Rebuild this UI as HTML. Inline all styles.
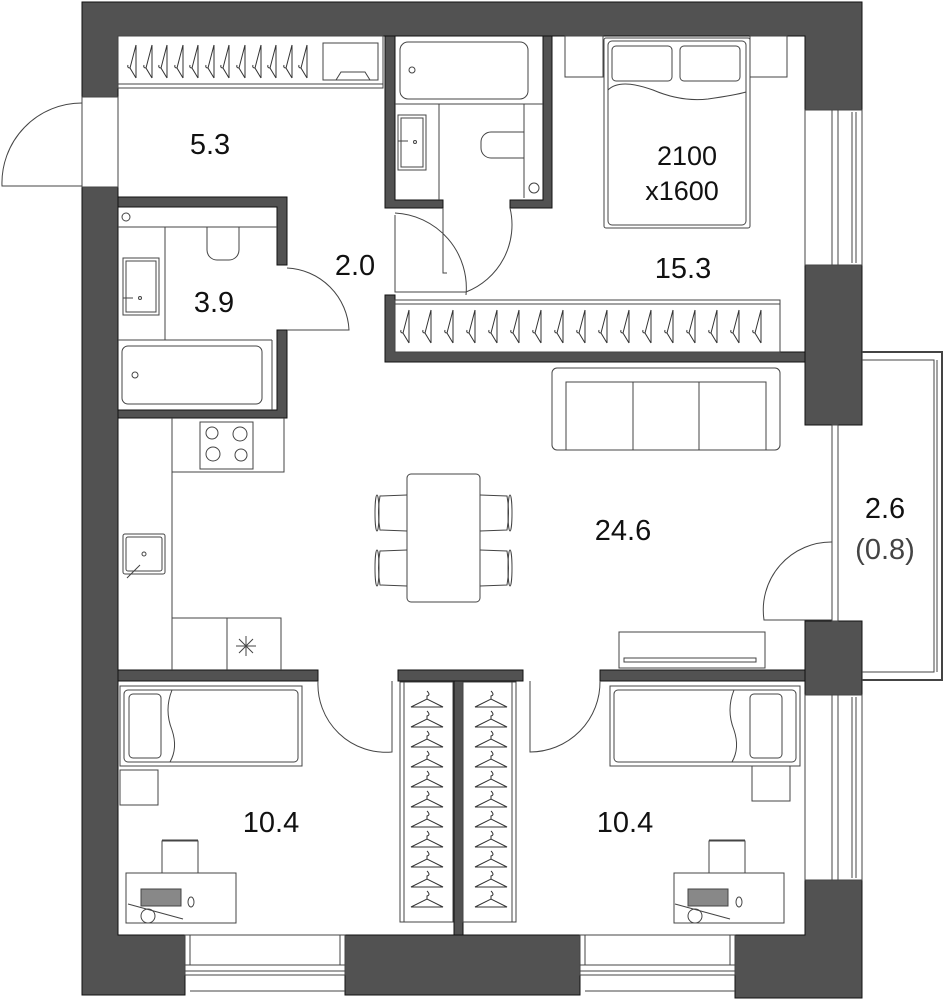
<!DOCTYPE html>
<html><head><meta charset="utf-8"><style>
html,body{margin:0;padding:0;background:#fff;width:944px;height:1000px;overflow:hidden}
svg{display:block}
text{font-family:"Liberation Sans",sans-serif;fill:#111}
</style></head><body>
<svg width="944" height="1000" viewBox="0 0 944 1000" xmlns="http://www.w3.org/2000/svg">
<defs>
<g id="hv" fill="none" stroke="#333" stroke-width="1"><path d="M3,-17 L-3,6 L3,16 M3,-17 L3,16 M-3,6 q-3,0 -2,-3"/></g>
<g id="hh" fill="none" stroke="#333" stroke-width="1"><path d="M-16,6 L16,6 L0,-2 Z M0,-2 v-3 q4,-1 0,-5"/></g>
</defs>
<g fill="#525252" stroke="#111" stroke-width="1">
<path d="M82,2 H862 V110 H805 V36 H118 V97 H82 Z"/>
<path d="M82,187 H118 V935 H185 V995 H82 Z"/>
<rect x="345" y="935" width="235" height="60"/>
<path d="M805,880 H862 V998 H735 V935 H805 Z"/>
<rect x="805" y="265" width="57" height="160"/>
<rect x="805" y="621" width="57" height="74"/>
<path d="M118,197 H287 V265 H277 V207 H118 Z"/>
<path d="M277,330 H287 V418 H118 V410 H277 Z"/>
<path d="M385,36 H395 V200 H443 V208 H385 Z"/>
<path d="M543,36 H552 V208 H510 V200 H543 Z"/>
<path d="M385,295 H395 V352 H805 V362 H385 Z"/>
<rect x="118" y="670" width="200" height="11"/>
<rect x="398" y="670" width="125" height="11"/>
<rect x="600" y="670" width="205" height="11"/>
<rect x="454" y="681" width="9" height="254"/>
</g>
<g fill="none" stroke="#444" stroke-width="1">
<rect x="82" y="97" width="36" height="90" fill="#fff"/>
<path d="M82,186 H2 A80,80 0 0 1 82,103"/>
<rect x="118" y="36" width="265" height="52"/>
<line x1="118" y1="84" x2="383" y2="84"/>
<rect x="323" y="43" width="55" height="37"/>
<path d="M336,80 l5,-8 h24 l5,8"/>
<line x1="118" y1="227" x2="277" y2="227"/>
<circle cx="126" cy="217" r="4"/>
<line x1="165" y1="227" x2="165" y2="340"/>
<path d="M207,227 v23 a10,10 0 0 0 10,10 h12 a10,10 0 0 0 10,-10 v-23"/>
<rect x="123" y="258" width="36" height="57"/><rect x="126" y="261" width="30" height="51"/>
<path d="M123,298 h10"/><circle cx="140" cy="298" r="1.5"/>
<line x1="118" y1="340" x2="272" y2="340"/><line x1="272" y1="340" x2="272" y2="410"/>
<rect x="122" y="346" width="140" height="58" rx="6"/>
<circle cx="135" cy="375" r="3"/>
<path d="M287,268 A65,65 0 0 1 349,330 H287"/>
<line x1="395" y1="104" x2="543" y2="104"/>
<rect x="400" y="42" width="128" height="57" rx="8"/>
<circle cx="412" cy="70" r="3"/>
<line x1="439" y1="104" x2="439" y2="200"/>
<rect x="398" y="115" width="28" height="55"/><rect x="401" y="118" width="22" height="49"/>
<path d="M398,141 h10"/><circle cx="415" cy="142" r="1.5"/>
<line x1="524" y1="104" x2="524" y2="198"/>
<path d="M524,132 h-33 a10,10 0 0 0 -10,10 v6 a10,10 0 0 0 10,10 h33"/>
<circle cx="534" cy="188" r="5"/>
<path d="M395,213 A75,75 0 0 1 466,295"/>
<path d="M395,215 V292 H466 M510,208 A72,72 0 0 1 466,292"/>
<path d="M443,208 v65 h4"/>
<rect x="565" y="36" width="38" height="41"/><rect x="750" y="36" width="37" height="41"/>
<rect x="604" y="38" width="146" height="190" rx="2" fill="#fff"/>
<rect x="608" y="41" width="138" height="184" rx="4"/>
<rect x="612" y="46" width="60" height="35" rx="4"/><rect x="680" y="46" width="60" height="35" rx="4"/>
<path d="M608,90 q12,-12 45,0 q28,12 55,9 q28,-4 38,-7"/>
<rect x="805" y="110" width="57" height="155" fill="#fff"/>
<line x1="832" y1="110" x2="832" y2="265"/><line x1="838" y1="110" x2="838" y2="265"/>
<line x1="852" y1="112" x2="852" y2="263"/><line x1="856" y1="112" x2="856" y2="263"/>
<rect x="395" y="300" width="385" height="52"/><line x1="395" y1="304" x2="780" y2="304"/>
<rect x="552" y="368" width="228" height="82" rx="5"/>
<rect x="566" y="382" width="200" height="68"/>
<line x1="633" y1="382" x2="633" y2="450"/><line x1="699" y1="382" x2="699" y2="450"/>
<line x1="172" y1="418" x2="172" y2="670"/>
<path d="M172,472 H284 V418"/>
<rect x="200" y="422" width="53" height="47"/>
<circle cx="212" cy="433" r="6"/><circle cx="240" cy="434" r="7"/><circle cx="213" cy="454" r="7"/><circle cx="241" cy="455" r="6"/>
<rect x="123" y="534" width="42" height="40" rx="2"/><rect x="126" y="537" width="36" height="34" rx="2"/>
<circle cx="144" cy="554" r="2"/><path d="M127,578 l13,-13"/>
<path d="M172,618 H281 V670 M227,618 V670"/>
<path d="M246,636 v20 M236,646 h20 M239,639 l14,14 M253,639 l-14,14"/>
<rect x="407" y="474" width="73" height="128" rx="4"/>
<path d="M407,495 l-27,1 q-3,17 0,34 l27,1 M407,550 l-27,1 q-3,17 0,34 l27,1"/>
<path d="M480,495 l27,1 q3,17 0,34 l-27,1 M480,550 l27,1 q3,17 0,34 l-27,1"/>
<ellipse cx="377" cy="513" rx="2" ry="18"/><ellipse cx="377" cy="568" rx="2" ry="18"/>
<ellipse cx="510" cy="513" rx="2" ry="18"/><ellipse cx="510" cy="568" rx="2" ry="18"/>
<rect x="619" y="632" width="146" height="36"/><rect x="624" y="658" width="132" height="4"/>
<rect x="832" y="425" width="6" height="196"/>
<path d="M832,542 A68,68 0 0 0 764,620 H832"/>
<path d="M862,352 H942 V680 H862" stroke-width="2"/>
<path d="M862,360 H934 V672 H862"/>
<line x1="937" y1="360" x2="937" y2="672"/>
<rect x="120" y="686" width="182" height="80"/><rect x="124" y="690" width="174" height="72" rx="4"/>
<rect x="129" y="694" width="32" height="64" rx="4"/>
<path d="M172,690 q-8,20 0,40 q6,18 -2,32"/>
<rect x="120" y="770" width="38" height="35"/>
<rect x="126" y="873" width="110" height="50"/>
<path d="M162,873 v-32 h36 v32 M162,840 h36"/>
<rect x="141" y="889" width="40" height="17" fill="#888"/>
<path d="M128,904 l55,15"/><circle cx="148" cy="916" r="7"/><ellipse cx="191" cy="902" rx="3" ry="5"/>
<path d="M318,681 A68,68 0 0 0 392,752 V681"/>
<rect x="400" y="682" width="53" height="240"/><line x1="404" y1="682" x2="404" y2="922"/>
<rect x="463" y="682" width="53" height="240"/><line x1="512" y1="682" x2="512" y2="922"/>
<path d="M600,681 A70,70 0 0 1 530,752 V681"/>
<rect x="610" y="686" width="190" height="80"/><rect x="614" y="690" width="182" height="72" rx="4"/>
<rect x="750" y="694" width="32" height="64" rx="4"/>
<path d="M734,690 q-8,20 0,40 q6,18 -2,32"/>
<rect x="752" y="766" width="38" height="35"/>
<rect x="674" y="873" width="110" height="50"/>
<path d="M709,873 v-32 h36 v32 M709,840 h36"/>
<rect x="688" y="889" width="40" height="17" fill="#888"/>
<path d="M675,904 l55,15"/><circle cx="695" cy="916" r="7"/><ellipse cx="739" cy="902" rx="3" ry="5"/>
<rect x="185" y="935" width="160" height="40" fill="#fff"/><line x1="190" y1="935" x2="190" y2="965"/><line x1="340" y1="935" x2="340" y2="965"/>
<rect x="185" y="965" width="160" height="6"/><line x1="190" y1="991" x2="345" y2="991"/>
<rect x="580" y="935" width="155" height="40" fill="#fff"/><line x1="585" y1="935" x2="585" y2="965"/><line x1="730" y1="935" x2="730" y2="965"/>
<rect x="580" y="965" width="155" height="6"/><line x1="585" y1="991" x2="735" y2="991"/>
<rect x="805" y="695" width="57" height="185" fill="#fff"/>
<line x1="832" y1="695" x2="832" y2="880"/><line x1="838" y1="695" x2="838" y2="880"/>
<line x1="852" y1="697" x2="852" y2="878"/><line x1="856" y1="697" x2="856" y2="878"/>
</g>
<g>
<use href="#hv" x="133" y="62"/><use href="#hv" x="149" y="62"/><use href="#hv" x="164" y="62"/><use href="#hv" x="180" y="62"/><use href="#hv" x="195" y="62"/><use href="#hv" x="211" y="62"/><use href="#hv" x="226" y="62"/><use href="#hv" x="242" y="62"/><use href="#hv" x="258" y="62"/><use href="#hv" x="273" y="62"/><use href="#hv" x="289" y="62"/><use href="#hv" x="304" y="62"/>
<use href="#hv" x="406" y="327"/><use href="#hv" x="428" y="327"/><use href="#hv" x="450" y="327"/><use href="#hv" x="472" y="327"/><use href="#hv" x="494" y="327"/><use href="#hv" x="516" y="327"/><use href="#hv" x="538" y="327"/><use href="#hv" x="560" y="327"/><use href="#hv" x="582" y="327"/><use href="#hv" x="604" y="327"/><use href="#hv" x="626" y="327"/><use href="#hv" x="648" y="327"/><use href="#hv" x="670" y="327"/><use href="#hv" x="692" y="327"/><use href="#hv" x="714" y="327"/><use href="#hv" x="736" y="327"/><use href="#hv" x="758" y="327"/>
<use href="#hh" x="427" y="701"/><use href="#hh" x="427" y="721"/><use href="#hh" x="427" y="741"/><use href="#hh" x="427" y="761"/><use href="#hh" x="427" y="781"/><use href="#hh" x="427" y="801"/><use href="#hh" x="427" y="821"/><use href="#hh" x="427" y="841"/><use href="#hh" x="427" y="861"/><use href="#hh" x="427" y="881"/><use href="#hh" x="427" y="901"/>
<use href="#hh" x="491" y="701"/><use href="#hh" x="491" y="721"/><use href="#hh" x="491" y="741"/><use href="#hh" x="491" y="761"/><use href="#hh" x="491" y="781"/><use href="#hh" x="491" y="801"/><use href="#hh" x="491" y="821"/><use href="#hh" x="491" y="841"/><use href="#hh" x="491" y="861"/><use href="#hh" x="491" y="881"/><use href="#hh" x="491" y="901"/>
</g>
<g font-size="29" text-anchor="middle">
<text x="210" y="154">5.3</text>
<text x="355" y="275">2.0</text>
<text x="214" y="312">3.9</text>
<text x="687" y="165" font-size="27">2100</text>
<text x="682" y="200" font-size="27">x1600</text>
<text x="683" y="278">15.3</text>
<text x="623" y="540">24.6</text>
<text x="885" y="518">2.6</text>
<text x="885" y="559" style="fill:#444">(0.8)</text>
<text x="271" y="832">10.4</text>
<text x="625" y="832">10.4</text>
</g>
</svg>
</body></html>
